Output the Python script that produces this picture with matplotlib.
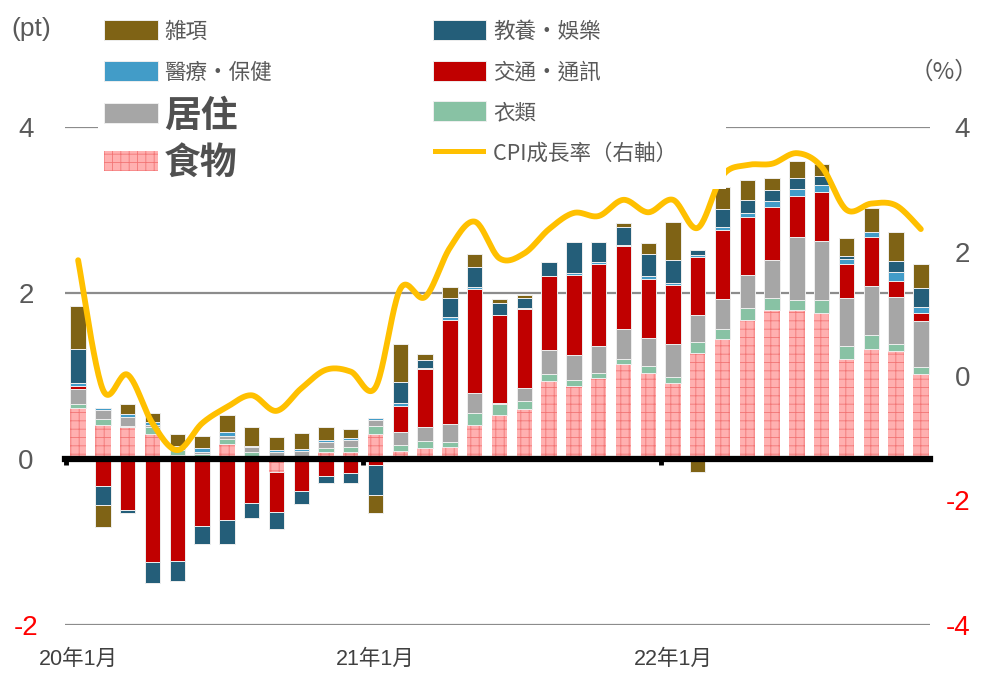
"""Taiwan CPI: contribution by category (pt, bars) and CPI growth (%, line, right axis)."""
import numpy as np
import matplotlib
matplotlib.use('Agg')
from matplotlib import pyplot as plt
from matplotlib.legend_handler import HandlerPatch
from matplotlib.patches import Patch, Rectangle

plt.rcParams['font.family'] = ['Liberation Sans', 'Noto Sans CJK TC', 'DejaVu Sans']
plt.rcParams['hatch.linewidth'] = 0.6

# ---------------------------------------------------------------------------
# Data, Jan 2020 .. Nov 2022
# ---------------------------------------------------------------------------
N_MONTHS = 35
TICK_POS = [0, 12, 24]
TICK_LABELS = ['20年1月', '21年1月', '22年1月']
YEAR_EDGES = [-0.5, 11.5, 23.5]

FOOD = [0.61, 0.41, 0.38, 0.30, 0.05, 0.03, 0.18, 0.04, -0.16, 0.01, 0.09, 0.08,
        0.30, 0.10, 0.13, 0.15, 0.41, 0.53, 0.60, 0.94, 0.88, 0.98, 1.14, 1.04,
        0.92, 1.28, 1.44, 1.67, 1.80, 1.79, 1.76, 1.21, 1.32, 1.30, 1.03]
CLOTHING = [0.05, 0.07, 0.02, 0.08, 0.06, 0.03, 0.055, 0.05, 0.03, 0.02, 0.04, 0.06,
            0.10, 0.07, 0.09, 0.06, 0.14, 0.13, 0.10, 0.09, 0.07, 0.06, 0.07, 0.08,
            0.07, 0.13, 0.13, 0.15, 0.14, 0.12, 0.15, 0.15, 0.17, 0.085, 0.08]
HOUSING = [0.18, 0.11, 0.11, 0.03, 0.02, 0.03, 0.04, 0.05, 0.06, 0.07, 0.08, 0.09,
           0.07, 0.15, 0.16, 0.21, 0.24, 0.02, 0.15, 0.28, 0.30, 0.32, 0.36, 0.34,
           0.39, 0.33, 0.36, 0.40, 0.46, 0.76, 0.72, 0.58, 0.59, 0.565, 0.555]
TRANSPORT = [0.04, -0.33, -0.61, -1.24, -1.23, -0.81, -0.74, -0.53, -0.48, -0.39, -0.20, -0.17,
             -0.07, 0.32, 0.70, 1.26, 1.26, 1.05, 0.96, 0.89, 0.97, 0.99, 1.00, 0.71,
             0.72, 0.69, 0.83, 0.70, 0.64, 0.50, 0.59, 0.41, 0.59, 0.20, 0.09]
MEDICAL = [0.04, 0.03, 0.03, 0.04, 0.03, 0.04, 0.045, 0.02, 0.02, 0.02, 0.02, 0.02,
           0.02, 0.03, 0.02, 0.03, 0.02, 0.01, 0.01, 0.01, 0.02, 0.02, 0.01, 0.03,
           0.02, 0.03, 0.04, 0.04, 0.07, 0.08, 0.08, 0.06, 0.06, 0.10, 0.08]
EDUCATION = [0.40, -0.22, -0.04, -0.25, -0.24, -0.21, -0.28, -0.18, -0.20, -0.15, -0.09, -0.12,
             -0.36, 0.26, 0.09, 0.23, 0.24, 0.14, 0.12, 0.16, 0.38, 0.25, 0.21, 0.27,
             0.28, 0.06, 0.21, 0.16, 0.125, 0.13, 0.105, 0.03, 0.0, 0.14, 0.23]
MISC = [0.52, -0.27, 0.12, 0.10, 0.14, 0.15, 0.21, 0.22, 0.15, 0.19, 0.16, 0.11,
        -0.22, 0.45, 0.08, 0.13, 0.16, 0.05, 0.03, 0.0, 0.0, 0.0, 0.05, 0.13,
        0.45, -0.16, 0.27, 0.24, 0.155, 0.21, 0.145, 0.22, 0.30, 0.35, 0.28]
CPI = [1.86, -0.22, 0.02, -0.76, -1.19, -0.76, -0.50, -0.31, -0.56, -0.20, 0.10, 0.07,
       -0.18, 1.40, 1.27, 2.06, 2.48, 1.89, 1.97, 2.36, 2.62, 2.57, 2.83, 2.63,
       2.83, 2.38, 3.22, 3.39, 3.41, 3.58, 3.36, 2.67, 2.77, 2.74, 2.36]

# stacking order, bottom -> top
SERIES = [('食物', FOOD), ('衣類', CLOTHING), ('居住', HOUSING), ('交通・通訊', TRANSPORT),
          ('醫療・保健', MEDICAL), ('教養・娛樂', EDUCATION), ('雑項', MISC)]

STYLE = {
    '食物':     dict(facecolor='#FFB0B0', edgecolor='#F27575', hatch='++', linewidth=0),
    '衣類':     dict(facecolor='#88C2A4', edgecolor='#EEEEEE', linewidth=0.7),
    '居住':     dict(facecolor='#A6A6A6', edgecolor='#EEEEEE', linewidth=0.7),
    '交通・通訊': dict(facecolor='#C00000', edgecolor='#EEEEEE', linewidth=0.7),
    '醫療・保健': dict(facecolor='#429CC8', edgecolor='#EEEEEE', linewidth=0.7),
    '教養・娛樂': dict(facecolor='#245E79', edgecolor='#EEEEEE', linewidth=0.7),
    '雑項':     dict(facecolor='#7F6315', edgecolor='#EEEEEE', linewidth=0.7),
}
CPI_COLOR = '#FFC000'
GRAY_TXT = '#595959'
NEG_RED = '#FF0000'


def smooth(xs, ys, steps=24):
    """Excel-style smoothed line: cubic Bezier through every point."""
    p = np.column_stack([xs, ys]).astype(float)
    pad = np.vstack([p[0], p, p[-1]])
    t = np.linspace(0, 1, steps, endpoint=False)[:, None]
    segs = []
    for i in range(len(p) - 1):
        p0, p1, p2, p3 = pad[i], pad[i + 1], pad[i + 2], pad[i + 3]
        c1 = p1 + (p2 - p0) / 6
        c2 = p2 - (p3 - p1) / 6
        segs.append((1 - t) ** 3 * p1 + 3 * (1 - t) ** 2 * t * c1
                    + 3 * (1 - t) * t ** 2 * c2 + t ** 3 * p2)
    segs.append(p[-1:])
    out = np.vstack(segs)
    return out[:, 0], out[:, 1]


def box_handler(lift, h):
    """Legend patch of fixed height, placed relative to the text baseline (pt)."""
    def make(legend, orig_handle, xdescent, ydescent, width, height, fontsize):
        return Rectangle((-xdescent, lift), width, h)
    return HandlerPatch(patch_func=make)


fig = plt.figure(figsize=(9.84, 6.76), dpi=100)
ax = fig.add_axes([65 / 984, 51 / 676, 865 / 984, 498 / 676])

x = np.arange(N_MONTHS)
pos_base = np.zeros(N_MONTHS)
neg_base = np.zeros(N_MONTHS)
for name, vals in SERIES:
    v = np.asarray(vals, dtype=float)
    ax.bar(x, v, 0.62, bottom=np.where(v >= 0, pos_base, neg_base), zorder=2, **STYLE[name])
    pos_base += np.clip(v, 0, None)
    neg_base += np.clip(v, None, 0)

ax.set_xlim(-0.53, 34.37)
ax.set_ylim(-2, 4)
ax.set_yticks([-2, 0, 2, 4], labels=['-2', '0', '2', '4'])
ax.yaxis.grid(True, color='#8C8C8C', linewidth=1.6)
ax.set_axisbelow(True)
ax.tick_params(axis='y', length=0, pad=28, labelsize=20, labelcolor=GRAY_TXT)
for lab in ax.get_yticklabels():
    lab.set_horizontalalignment('center')
    if lab.get_text().startswith('-'):
        lab.set_color(NEG_RED)

for side in ['top', 'left', 'right']:
    ax.spines[side].set_visible(False)
ax.spines['bottom'].set_position(('data', 0))
ax.spines['bottom'].set_linewidth(4.5)
ax.spines['bottom'].set_color('black')
ax.spines['bottom'].set_zorder(3)
ax.set_xticks(YEAR_EDGES)
ax.tick_params(axis='x', direction='out', length=4.5, width=3.5, color='black',
               labelbottom=False)

sec = ax.secondary_xaxis(0.0)
sec.set_xticks(TICK_POS, labels=TICK_LABELS)
sec.tick_params(length=0, pad=17, labelsize=15.5, labelcolor='#404040')
sec.spines['bottom'].set_visible(False)

ax2 = ax.twinx()
ax2.set_ylim(-4, 4)
ax2.set_yticks([-4, -2, 0, 2, 4], labels=['-4', '-2', '0', '2', '4'])
ax2.tick_params(axis='y', length=0, pad=29, labelsize=20, labelcolor=GRAY_TXT)
for lab in ax2.get_yticklabels():
    lab.set_horizontalalignment('right')
    if lab.get_text().startswith('-'):
        lab.set_color(NEG_RED)
for s in ax2.spines.values():
    s.set_visible(False)

sx, sy = smooth(x, CPI)
ax2.plot(sx, sy, color=CPI_COLOR, linewidth=4.2, solid_capstyle='round', zorder=3)

fig.text(31 / 984, 1 - 29 / 676, '(pt)', ha='center', va='center', fontsize=19, color=GRAY_TXT)
fig.text(944 / 984, 1 - 72 / 676, '（%）', ha='center', va='center', fontsize=17,
         color=GRAY_TXT, family=['Noto Sans CJK TC', 'DejaVu Sans'])

# legend: two columns, 居住 / 食物 in large bold type
FS = 15.5
small_box = box_handler(-1.3, 14.4)
big_box = box_handler(2.7, 14.4)
leg_items = [('雑項', small_box), ('醫療・保健', small_box), ('居住', big_box), ('食物', big_box),
             ('教養・娛樂', small_box), ('交通・通訊', small_box), ('衣類', small_box)]
handles, labels, hmap = [], [], {}
for name, hd in leg_items:
    patch = Patch(**STYLE[name])
    handles.append(patch)
    labels.append(name)
    hmap[patch] = hd
cpi_handle = Patch(facecolor=CPI_COLOR, edgecolor='none')
handles.append(cpi_handle)
labels.append('CPI成長率（右軸）\u3000\u3000')
hmap[cpi_handle] = box_handler(4.2, 3.4)

leg = fig.legend(handles, labels, ncol=2, loc='upper left',
                 bbox_to_anchor=(98 / 984, 1 - 10 / 676), bbox_transform=fig.transFigure,
                 borderaxespad=0, borderpad=0.3, fontsize=FS, handlelength=2.47,
                 handleheight=1.75, handletextpad=0.3, labelspacing=0.5,
                 columnspacing=7.5, frameon=True, fancybox=False, framealpha=1,
                 facecolor='white', edgecolor='none', handler_map=hmap,
                 prop={'family': ['Noto Sans CJK TC', 'DejaVu Sans'], 'size': FS})
for txt in leg.get_texts():
    txt.set_color(GRAY_TXT)
    if txt.get_text() in ('居住', '食物'):
        txt.set_fontsize(26.5)
        txt.set_fontweight('bold')
        txt.set_color('#505050')

fig.savefig('out.png', dpi=100)
